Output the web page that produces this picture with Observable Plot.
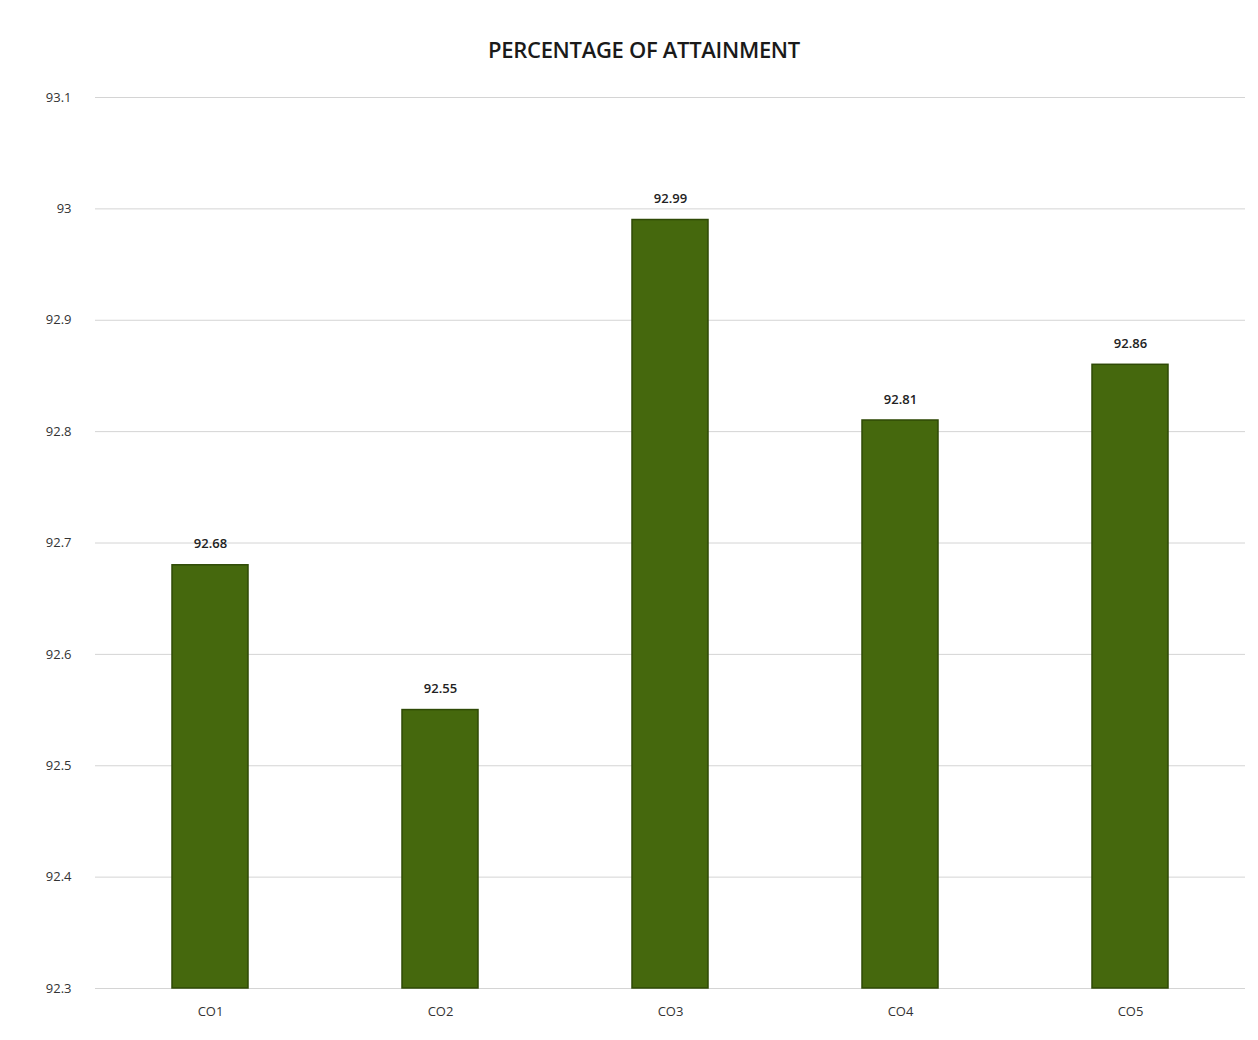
<!DOCTYPE html>
<html>
<head>
<meta charset="utf-8">
<script src="https://cdn.jsdelivr.net/npm/d3@7"></script>
<script src="https://cdn.jsdelivr.net/npm/@observablehq/plot@0.6"></script>
<style>
  html, body { margin: 0; padding: 0; background: #fff; }
  #wrap { width: 1258px; height: 1040px; position: relative; font-family: "Open Sans", "Noto Sans", sans-serif; }
  #title { height: 70px; display: flex; align-items: flex-end; justify-content: center; box-sizing: border-box; padding-bottom: 6px; padding-left: 30px;
           font-size: 22px; font-weight: 600; color: #1a1a1a; letter-spacing: -0.3px; }
</style>
</head>
<body>
<div id="wrap">
  <div id="title">PERCENTAGE OF ATTAINMENT</div>
  <div id="chart"></div>
</div>
<script>
const categories = ["CO1", "CO2", "CO3", "CO4", "CO5"];
const values = [92.68, 92.55, 92.99, 92.81, 92.86];
const yTicks = [92.3, 92.4, 92.5, 92.6, 92.7, 92.8, 92.9, 93, 93.1];
const yMin = 92.3, yMax = 93.1;

const data = categories.map((c, i) => ({category: c, value: values[i]}));

const chart = Plot.plot({
  width: 1258,
  height: 970,
  marginTop: 27,
  marginBottom: 52,
  marginLeft: 95,
  marginRight: 13,
  style: {fontFamily: "'Open Sans', 'Noto Sans', sans-serif", fontSize: "13px", color: "#333", background: "#fff"},
  x: {domain: categories, paddingInner: 0.67, paddingOuter: 0.335, label: null, tickSize: 0, tickPadding: 18},
  y: {domain: [yMin, yMax], ticks: yTicks, tickFormat: d => String(+d.toFixed(1)), label: null, tickSize: 0, tickPadding: 24},
  marks: [
    Plot.gridY(yTicks, {stroke: "#d4d4d4", strokeOpacity: 1, strokeWidth: 1}),
    Plot.barY(data, {x: "category", y1: () => yMin, y2: "value", fill: "#45680d", stroke: "#2f4a06", strokeWidth: 1.5}),
    Plot.text(data, {x: "category", y: "value", text: d => d.value.toFixed(2), dy: -21, fontSize: 13, fontWeight: 600, fill: "#222"})
  ]
});
document.getElementById("chart").appendChild(chart);
</script>
</body>
</html>
